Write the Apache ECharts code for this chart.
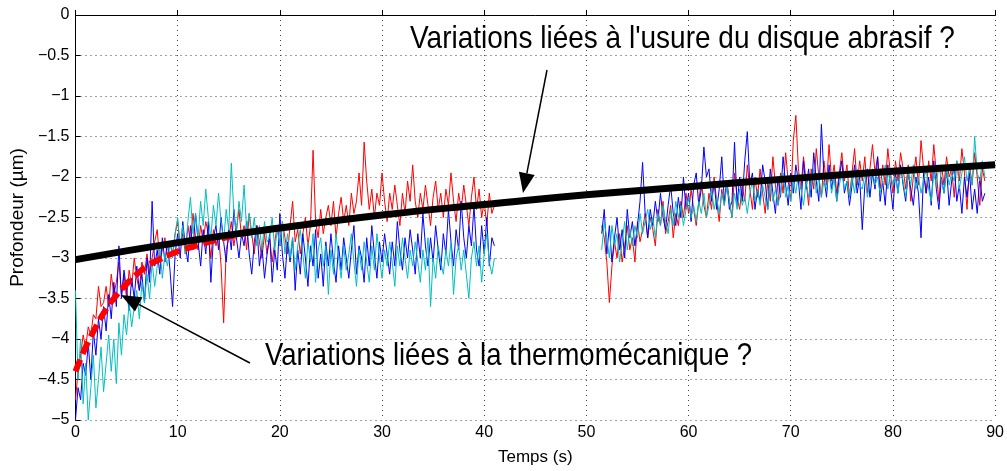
<!DOCTYPE html>
<html><head><meta charset="utf-8">
<script src="https://cdn.jsdelivr.net/npm/echarts@6/dist/echarts.min.js"></script>
<style>html,body{margin:0;padding:0;background:#fff}#c{width:1007px;height:471px}</style>
</head><body><div id="c"></div>
<script>
// ---- data ----
const xTicks = [0, 90, 10];
const yTicks = [-5, 0, 0.5];
const seg1Start = 0, seg2Start = 51.5, step = 0.25;

const red1 = [-4.75,-4.4,-4.2,-3.95, -4.1,-3.85,-3.95,-3.7, -3.75,-3.35,-3.6,-3.55, -3.35,-3.6,-3.2,-3.45, -3.3,-3.05,-3.45,-3.2, -3.5,-3.15,-3.35,-3.0, -3.25,-3.4,-3.05,-3.2, -2.95,-3.2,-3.0,-2.8, -2.65,-3.05,-2.9,-2.75, -3.0,-2.8,-2.95,-2.7, -2.55,-2.85,-2.7,-2.95, -2.6,-2.8,-2.45,-2.75, -2.9,-2.6,-2.8,-2.55, -2.7,-3.0,-2.65,-2.85, -2.7,-3.1,-3.8,-2.9, -2.75,-2.55,-2.85,-2.65, -2.4,-2.75,-2.6,-2.9, -2.45,-2.7,-2.95,-2.6, -2.8,-3.0,-2.7,-2.95, -2.75,-3.05,-2.8,-2.6, -2.85,-2.55,-2.75,-2.95, -2.6,-2.3,-2.8,-2.65, -2.95,-2.7,-2.5,-2.85, -2.6,-1.67,-2.55,-2.75, -2.4,-2.7,-2.5,-2.35, -2.6,-2.3,-2.75,-2.45, -2.25,-2.55,-2.35,-2.6, -2.2,-2.45,-2.3,-1.95, -2.35,-1.57,-2.05,-2.4, -2.15,-2.5,-2.2,-2.35, -1.95,-2.3,-2.55,-2.2, -2.4,-2.1,-2.35,-2.6, -2.2,-2.45,-2.05,-2.3, -1.85,-2.3,-2.5,-2.2, -2.4,-2.1,-2.35,-2.6, -2.25,-2.05,-2.4,-2.2, -2.5,-2.15,-2.35,-1.95, -2.3,-2.55,-2.2,-2.4, -2.1,-2.35,-2.6,-2.25, -2.0,-2.4,-2.15,-2.5, -2.3,-2.6,-2.2,-2.45, -2.35];
const blue1 = [-5.0,-4.6,-4.75,-4.3, -4.45,-4.05,-4.5,-3.9, -4.2,-3.75,-4.0,-3.6, -3.9,-3.45,-3.75,-3.3, -3.6,-2.85,-3.5,-3.15, -3.4,-3.65,-3.25,-3.5, -3.1,-3.4,-3.2,-3.55, -3.0,-3.3,-2.3,-3.1, -2.9,-3.2,-2.75,-3.05, -2.8,-3.15,-3.6,-2.95, -2.7,-3.0,-2.55,-2.85, -3.05,-2.6,-2.9,-2.45, -2.8,-3.1,-2.65,-2.95, -2.55,-3.3,-2.75,-2.6, -2.9,-2.5,-2.8,-3.05, -2.65,-2.9,-2.4,-2.75, -3.0,-2.7,-2.85,-2.55, -2.95,-3.2,-2.8,-2.6, -3.1,-2.85,-3.25,-2.95, -2.7,-3.3,-2.9,-3.15, -2.45,-2.95,-3.25,-2.8, -3.05,-2.75,-3.4,-2.9, -3.2,-2.7,-3.0,-3.35, -2.85,-3.1,-2.65,-3.25, -2.95,-3.35,-2.8,-3.1, -2.7,-3.05,-3.3,-2.85, -3.15,-2.75,-3.0,-3.25, -2.9,-2.6,-3.2,-2.85, -3.0,-3.3,-2.75,-3.1, -2.6,-2.95,-3.25,-2.8, -3.05,-2.7,-2.95,-3.2, -2.8,-3.1,-2.55,-2.9, -3.15,-2.75,-3.0,-2.65, -2.9,-3.2,-2.7,-3.0, -2.45,-2.85,-3.1,-2.75, -3.05,-2.6,-2.9,-3.15, -2.7,-2.95,-2.4,-2.8, -3.1,-2.65,-2.9,-2.3, -2.75,-3.0,-2.6,-2.85, -2.35,-2.9,-3.1,-2.6, -2.95,-2.5,-3.1,-2.75, -2.85];
const cyan1 = [-3.4,-4.5,-4.0,-4.8, -4.3,-5.0,-4.6,-4.2, -4.85,-4.5,-4.1,-4.65, -4.3,-3.95,-4.4,-4.0, -4.55,-3.8,-4.2,-3.7, -3.95,-3.55,-3.85,-3.6, -3.4,-3.75,-3.3,-3.55, -3.2,-3.5,-3.05,-3.35, -3.1,-2.85,-3.25,-2.95, -3.1,-2.8,-3.0,-2.7, -2.5,-2.85,-2.6,-2.95, -2.55,-2.25,-2.7,-2.45, -2.75,-2.3,-2.6,-2.15, -2.5,-2.75,-2.35,-2.6, -2.2,-2.55,-2.8,-2.4, -2.65,-1.83,-2.45,-2.7, -2.3,-2.55,-2.1,-2.65, -2.45,-2.75,-2.5,-2.85, -2.6,-2.9,-2.55,-2.8, -2.75,-2.5,-2.9,-2.65, -2.85,-2.55,-2.95,-2.7, -3.0,-2.75,-3.15,-2.85, -2.65,-2.95,-3.25,-2.8, -3.05,-2.7,-3.3,-2.9, -2.75,-3.1,-2.85,-3.45, -2.9,-3.2,-2.7,-3.0, -3.25,-2.85,-3.15,-2.95, -2.7,-3.05,-3.35,-2.9, -3.15,-2.8,-3.05,-3.3, -2.85,-3.15,-2.7,-3.0, -3.25,-2.9,-3.1,-2.8, -3.05,-3.35,-2.85,-3.1, -2.75,-3.0,-3.25,-2.9, -3.1,-2.8,-3.05,-3.3, -2.9,-3.15,-2.75,-3.6, -3.0,-3.25,-2.85,-3.05, -3.2,-2.9,-3.1,-2.8, -3.45,-3.0,-2.85,-3.15, -2.9,-3.2,-3.5,-3.0, -2.8,-3.1,-2.85,-3.3, -2.95,-2.7,-3.05,-3.2, -3.0];

const red2 = [-2.6,-2.75, -3.05,-3.55,-3.1,-2.8, -3.0,-2.7,-3.05,-2.85, -2.6,-2.9,-2.75,-3.05, -2.55,-2.8,-2.65,-2.45, -2.75,-2.5,-2.65,-2.85, -2.4,-2.6,-2.3,-2.7, -2.55,-2.35,-2.75,-2.45, -2.6,-2.3,-2.5,-2.2, -2.45,-2.15,-2.4,-2.6, -2.3,-2.05,-2.35,-2.5, -2.2,-2.4,-2.0,-2.3, -2.55,-2.15,-2.35,-2.05, -2.3,-2.5,-1.95,-2.25, -2.4,-2.1,-2.3,-1.85, -2.15,-2.4,-2.0,-2.25, -1.9,-2.2,-2.45,-2.05, -2.3,-1.75,-2.1,-2.35, -1.95,-2.2,-1.7,-2.05, -2.3,-1.55,-1.24,-1.9, -2.15,-1.75,-2.05,-2.35, -1.9,-2.15,-1.65,-2.0, -2.25,-1.8,-2.1,-1.6, -2.05,-1.85,-2.2,-1.95, -1.7,-2.05,-1.85,-2.25, -1.95,-1.65,-2.1,-1.8, -2.05,-1.75,-2.2,-1.9, -1.6,-1.95,-1.75,-2.15, -1.85,-2.1,-1.65,-1.95, -2.2,-1.8,-2.05,-1.7, -1.9,-2.15,-1.85,-2.3, -2.0,-1.75,-2.1,-1.55, -1.9,-2.2,-1.8,-2.05, -1.6,-1.95,-2.3,-1.85, -2.1,-1.75,-2.0,-1.9, -2.25,-1.8,-2.05,-1.65, -1.95,-2.4,-1.85,-2.1, -1.7,-2.0,-2.35,-1.9, -2.05];
const blue2 = [-2.7,-2.4, -2.95,-2.6,-3.05,-2.75, -2.5,-2.9,-2.65,-3.0, -2.4,-2.75,-2.55,-2.85, -2.6,-2.3,-1.82,-2.45, -2.75,-2.4,-2.6,-2.3, -2.55,-2.2,-2.5,-2.65, -2.35,-2.1,-2.45,-2.6, -2.25,-2.5,-2.0,-2.4, -2.2,-2.55,-2.1,-1.95, -2.35,-2.15,-1.63,-2.0, -1.9,-2.3,-2.05,-2.4, -2.15,-1.75,-2.3,-2.05, -2.4,-2.3,-1.57,-2.35, -2.0,-2.3,-1.8,-1.44, -2.1,-1.95,-2.4,-2.15, -2.3,-1.85,-2.05,-2.4, -1.9,-2.2,-2.45,-2.0, -2.25,-1.75,-2.1,-2.35, -1.95,-2.2,-1.85,-2.05, -2.4,-1.8,-2.15,-1.9, -2.25,-1.7,-2.05,-2.3, -1.35,-2.0,-2.25,-1.85, -2.15,-1.95,-2.3,-2.0, -1.8,-2.2,-2.05,-2.35, -2.1,-1.85,-2.2,-2.0, -2.65,-2.1,-1.9,-2.25, -1.95,-2.15,-1.75,-2.3, -2.05,-2.35,-1.85,-2.1, -2.4,-1.95,-2.2,-1.85, -2.1,-2.3,-1.95,-2.15, -2.35,-2.0,-2.2,-2.75, -1.95,-2.2,-2.0,-2.35, -1.8,-2.15,-2.4,-2.0, -2.2,-1.9,-2.35,-2.05, -1.85,-2.3,-2.1,-2.45, -2.0,-2.25,-1.95,-2.4, -2.15,-2.45,-2.0,-2.3, -2.2];
const cyan2 = [-2.9,-2.55, -2.75,-3.0,-2.6,-2.85, -2.7,-3.05,-2.8,-2.55, -2.9,-2.65,-2.85,-2.6, -2.75,-2.45,-2.7,-2.55, -2.4,-2.65,-2.5,-2.75, -2.45,-2.6,-2.35,-2.55, -2.7,-2.4,-2.6,-2.3, -2.5,-2.35,-2.6,-2.4, -2.25,-2.5,-2.35,-2.55, -2.3,-2.45,-2.2,-2.5, -2.35,-2.15,-2.4,-2.25, -2.45,-2.2,-2.35,-2.1, -2.3,-2.5,-2.2,-2.4, -2.15,-2.35,-2.25,-2.45, -2.2,-2.05,-2.3,-2.15, -2.35,-2.1,-2.25,-2.4, -2.05,-2.3,-2.15,-2.35, -2.2,-1.95,-2.25,-2.1, -2.3,-2.05,-2.2,-1.95, -2.15,-2.35,-2.05,-2.25, -2.1,-1.9,-2.2,-2.0, -2.25,-2.05,-2.15,-1.95, -2.2,-2.0,-2.3,-2.1, -1.95,-2.15,-2.05,-2.25, -2.0,-2.2,-1.9,-2.1, -2.15,-1.95,-2.25,-2.05, -1.9,-2.1,-2.0,-2.2, -2.05,-1.85,-2.15,-1.95, -2.1,-2.0,-2.2,-1.9, -2.05,-2.25,-1.95,-2.1, -1.85,-2.15,-2.0,-2.2, -2.05,-1.9,-2.15,-2.3, -1.95,-2.1,-1.85,-2.05, -2.2,-1.9,-2.1,-1.95, -2.05,-1.8,-2.15,-1.95, -1.75,-2.05,-1.9,-2.1, -1.5,-1.95,-2.05,-1.8, -2.0];

// wear trend (black) and thermomechanical transient (red dashed)
const wearT = [0, 10, 20, 30, 40, 50, 60, 70, 80, 90];
const wearV = [-3.02, -2.81, -2.63, -2.47, -2.34, -2.22, -2.12, -2.02, -1.93, -1.85];
const thermT = [0, 1, 2, 3, 4, 5, 6, 7, 8, 10, 12, 14, 16, 18];
const thermV = [-4.4, -4.1, -3.85, -3.63, -3.46, -3.32, -3.2, -3.1, -3.03, -2.92, -2.84, -2.77, -2.71, -2.66];

const xName = 'Temps (s)';
const yName = 'Profondeur (µm)';
const note1 = "Variations liées à l'usure du disque abrasif ?";
const note2 = 'Variations liées à la thermomécanique ?';

// ---- chart ----
const pairs = (t0, vals) => vals.map((v, i) => [t0 + i * step, v]);
const zip = (t, v) => t.map((x, i) => [x, v[i]]);
const FONT = '"Liberation Sans", Arial, Helvetica, sans-serif';
const noisy = (name, color, data) => ({
  name, type: 'line', data, showSymbol: false, symbol: 'none',
  lineStyle: { color, width: 1 }, itemStyle: { color }, silent: true, z: 2
});

const chart = echarts.init(document.getElementById('c'), null, { renderer: 'canvas' });
chart.setOption({
  animation: false,
  backgroundColor: '#fff',
  grid: { left: 74, right: 10, top: 15, bottom: 47, containLabel: false },
  xAxis: {
    type: 'value', min: xTicks[0], max: xTicks[1], interval: xTicks[2],
    name: xName, nameLocation: 'middle', nameGap: 29,
    nameTextStyle: { fontFamily: FONT, fontSize: 17, color: '#000' },
    axisLine: { show: true, lineStyle: { color: '#000', width: 1 } },
    axisTick: { show: true, inside: true, length: 5, lineStyle: { color: '#000' } },
    axisLabel: { fontFamily: FONT, fontSize: 16, color: '#000', margin: 5 },
    splitLine: { show: true, lineStyle: { color: '#444', type: [1, 4], width: 1 } }
  },
  yAxis: {
    type: 'value', min: yTicks[0], max: yTicks[1], interval: yTicks[2],
    name: yName, nameLocation: 'middle', nameGap: 42,
    nameTextStyle: { fontFamily: FONT, fontSize: 19, color: '#000' },
    axisLine: { show: true, lineStyle: { color: '#000', width: 1 } },
    axisTick: { show: true, inside: true, length: 5, lineStyle: { color: '#000' } },
    axisLabel: { fontFamily: FONT, fontSize: 16, color: '#000', margin: 6,
      formatter: v => String(v).replace('-', '\u2212') },
    splitLine: { show: true, lineStyle: { color: '#444', type: [1, 4], width: 1 } }
  },
  series: [
    noisy('r1', '#ff0000', pairs(seg1Start, red1)),
    noisy('r2', '#ff0000', pairs(seg2Start, red2)),
    noisy('b1', '#0000ff', pairs(seg1Start, blue1)),
    noisy('b2', '#0000ff', pairs(seg2Start, blue2)),
    noisy('c1', '#00bfbf', pairs(seg1Start, cyan1)),
    noisy('c2', '#00bfbf', pairs(seg2Start, cyan2)),
    { name: 'therm', type: 'line', data: zip(thermT, thermV), smooth: true, showSymbol: false, symbol: 'none',
      lineStyle: { color: '#ff0000', width: 6, type: [13, 6], cap: 'butt' }, z: 4, silent: true },
    { name: 'wear', type: 'line', data: zip(wearT, wearV), smooth: true, showSymbol: false, symbol: 'none',
      lineStyle: { color: '#000', width: 7 }, z: 5, silent: true }
  ]
});

function arrow(x1, y1, x2, y2, len, half) {
  const a = Math.atan2(y2 - y1, x2 - x1);
  const bx = x2 - len * Math.cos(a), by = y2 - len * Math.sin(a);
  const px = -Math.sin(a) * half, py = Math.cos(a) * half;
  return [
    { type: 'line', shape: { x1, y1, x2: bx, y2: by }, style: { stroke: '#000', lineWidth: 1.5 }, z: 10 },
    { type: 'polygon', shape: { points: [[x2, y2], [bx + px, by + py], [bx - px, by - py]] }, style: { fill: '#000' }, z: 10 }
  ];
}

chart.setOption({
  graphic: [
    { type: 'text', x: 410, y: 39, scaleY: 1.15, style: { text: note1, font: '28px ' + FONT, fill: '#000', textVerticalAlign: 'middle' }, z: 9 },
    { type: 'text', x: 265, y: 356, scaleY: 1.15, style: { text: note2, font: '27.5px ' + FONT, fill: '#000', textVerticalAlign: 'middle' }, z: 9 },
    ...arrow(547, 70, 523, 193, 20, 8),
    ...arrow(250, 363, 121, 295, 20, 8)
  ]
});
</script>
</body></html>
